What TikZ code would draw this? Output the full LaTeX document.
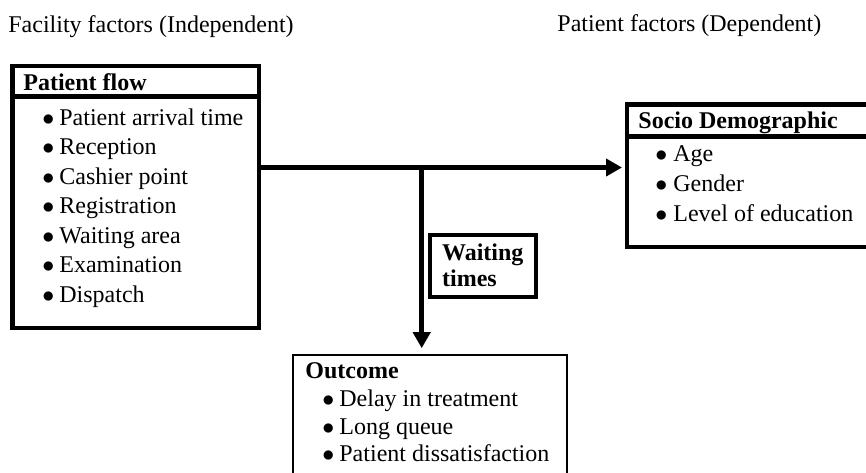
\documentclass[tikz,border=0pt]{standalone}
\usepackage{fontspec}
\setmainfont{Liberation Serif}
\usetikzlibrary{arrows.meta}

\begin{document}
\begin{tikzpicture}[x=0.5pt,y=-0.5pt,
  thickbox/.style={draw,line width=2.25pt,inner sep=0pt,outer sep=0pt,anchor=north west},
  thinbox/.style={draw,line width=0.75pt,inner sep=0pt,outer sep=0pt,anchor=north west},
  txt/.style={inner sep=0pt,anchor=base west,font=\fontsize{12}{14.75}\selectfont},
  boldtxt/.style={txt,font=\fontsize{12}{14.75}\selectfont\bfseries},
  link/.style={line width=2.25pt,-{Triangle[length=8pt,width=8.5pt]}}]
 \useasboundingbox (0,0) rectangle (866,472);
 \clip (0,0) rectangle (866,472);
 % column headings
 \node[txt] (facility) at (8,32) {Facility factors (Independent)};
 \node[txt] (patient) at (557,31) {Patient factors (Dependent)};
 % patient flow
 \node[thickbox,minimum width=123.25pt,minimum height=15.15pt] (flowhead) at (12.5,66) {};
 \node[thickbox,minimum width=123.25pt,minimum height=115.85pt] (flowbody) at (12.5,96.3) {};
 \node[boldtxt] (flowtitle) at (23,90) {Patient flow};
 \node[txt] (flowitems) at (42,125) {\begin{tabular}[t]{@{}l@{\hspace{2.5pt}}l@{}}
  $\bullet$ & Patient arrival time\\
  $\bullet$ & Reception\\
  $\bullet$ & Cashier point\\
  $\bullet$ & Registration\\
  $\bullet$ & Waiting area\\
  $\bullet$ & Examination\\
  $\bullet$ & Dispatch
 \end{tabular}};
 % socio demographic
 \node[thickbox,minimum width=125pt,minimum height=16.1pt] (sociohead) at (627,104.5) {};
 \node[thickbox,minimum width=125pt,minimum height=55.15pt] (socio) at (627,136.7) {};
 \node[boldtxt] (sociotitle) at (638,128) {Socio Demographic};
 \node[txt,font=\fontsize{12}{15}\selectfont] (socioitems) at (655,161.7) {\begin{tabular}[t]{@{}l@{\hspace{3pt}}l@{}}
  $\bullet$ & Age\\
  $\bullet$ & Gender\\
  $\bullet$ & Level of education
 \end{tabular}};
 % waiting times
 \node[thickbox,line width=2pt,minimum width=53.15pt,minimum height=30.7pt] (waiting) at (429.7,235.3) {};
 \node[boldtxt,font=\fontsize{12}{13}\selectfont\bfseries] (waitingtxt) at (441.7,260.7) {\begin{tabular}[t]{@{}l@{}}
  Waiting\\
  times
 \end{tabular}};
 % outcome
 \node[thinbox,minimum width=137pt,minimum height=75pt] (outcome) at (293,355) {};
 \node[boldtxt] (outcometitle) at (305,378) {Outcome};
 \node[txt,font=\fontsize{12}{13.75}\selectfont] (outcomeitems) at (322,406.7) {\begin{tabular}[t]{@{}l@{\hspace{2.5pt}}l@{}}
  $\bullet$ & Delay in treatment\\
  $\bullet$ & Long queue\\
  $\bullet$ & Patient dissatisfaction
 \end{tabular}};
 % connectors
 \coordinate (fork) at (421.7,167.5);
 \draw[link,shorten >=2.5pt] (flowbody.east |- fork) -- (socio.west |- fork);
 \draw[link,shorten >=3.4pt] (fork) -- (fork |- outcome.north);
\end{tikzpicture}
\end{document}
